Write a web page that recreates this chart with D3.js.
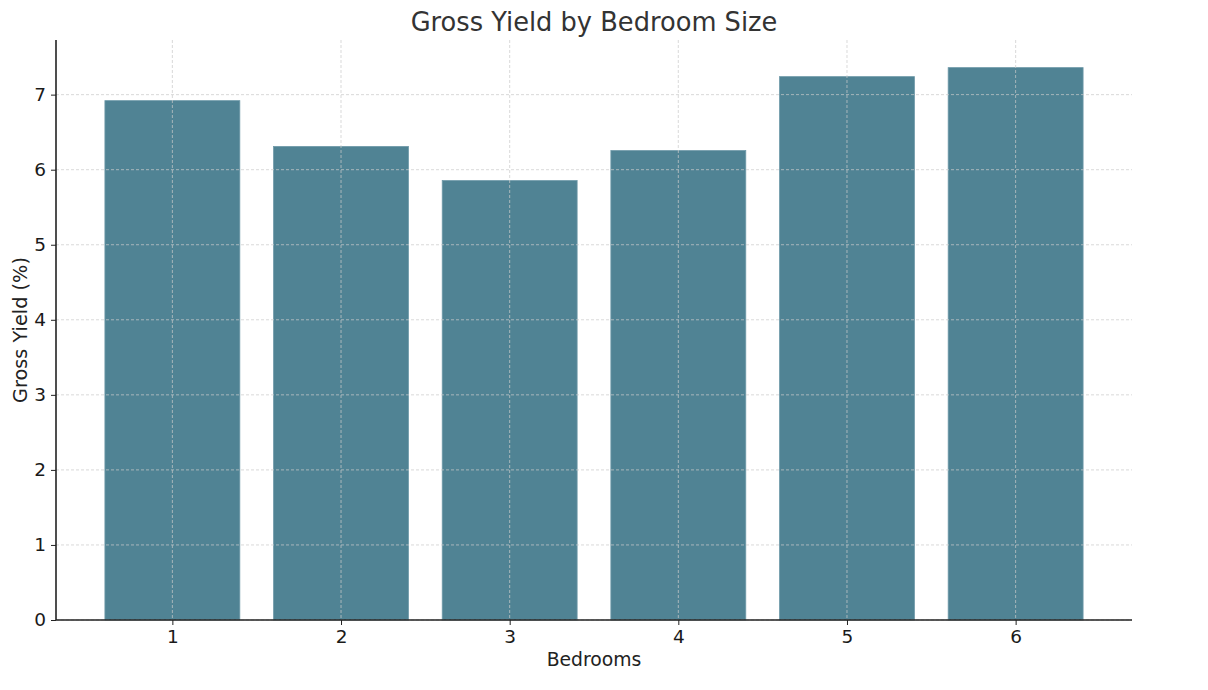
<!DOCTYPE html>
<html><head><meta charset="utf-8">
<script src="https://cdn.jsdelivr.net/npm/d3@7"></script>
<style>body{margin:0;background:#fff}svg{display:block}text{font-family:"DejaVu Sans",sans-serif}</style>
</head><body><svg id="c" width="1208" height="690"></svg>
<script>
const categories = ["1","2","3","4","5","6"];
const values = [6.92, 6.31, 5.855, 6.255, 7.24, 7.36];
const yTicks = [0,1,2,3,4,5,6,7];

const svg = d3.select("#c");
const L=56, R=1132, T=40, B=620;
const x = d3.scaleLinear().domain([0.31, 6.69]).range([L, R]);
const y = d3.scaleLinear().domain([0, 7.728]).range([B, T]);
const bw = x(1.8) - x(1);

svg.append("g").selectAll("rect").data(values).join("rect")
  .attr("x",(d,i)=>x(i+1)-bw/2).attr("width",bw)
  .attr("y",d=>y(d)).attr("height",d=>y(0)-y(d))
  .attr("fill","#508394").attr("stroke","#6f9aa9").attr("stroke-width",0.8);

// grid
const g = svg.append("g").attr("stroke","#cccccc").attr("stroke-width",0.8).attr("stroke-dasharray","3,2").attr("opacity",0.9);
g.selectAll("line.h").data(yTicks).join("line").attr("x1",L).attr("x2",R).attr("y1",d=>y(d)).attr("y2",d=>y(d));
g.selectAll("line.v").data(categories).join("line").attr("x1",(d,i)=>x(i+1)).attr("x2",(d,i)=>x(i+1)).attr("y1",T).attr("y2",B);

const xa = svg.append("g").attr("transform",`translate(0,${B})`)
  .call(d3.axisBottom(x).tickValues([1,2,3,4,5,6]).tickFormat((d,i)=>categories[i]).tickSizeOuter(0).tickSize(5).tickPadding(5));
const ya = svg.append("g").attr("transform",`translate(${L},0)`)
  .call(d3.axisLeft(y).tickValues(yTicks).tickSizeOuter(0).tickSize(5).tickPadding(5));
[xa,ya].forEach(a=>{
  a.selectAll("text").style("font-size","18.5px").style("font-family","DejaVu Sans").attr("fill","#1a1a1a");
  a.selectAll("line").attr("stroke","#222"); a.select(".domain").attr("stroke","#222").attr("stroke-width",1.6);});
xa.select(".domain").attr("d",`M${L},0H${R}`);
ya.select(".domain").attr("d",`M0,${B}V${T}`);

svg.append("text").attr("x",594).attr("y",31).attr("text-anchor","middle").attr("font-size",25.7).attr("fill","#333").text("Gross Yield by Bedroom Size");
svg.append("text").attr("x",594).attr("y",666).attr("text-anchor","middle").attr("font-size",18.8).attr("fill","#222").text("Bedrooms");
svg.append("text").attr("transform","translate(27,330) rotate(-90)").attr("text-anchor","middle").attr("font-size",19.3).attr("fill","#222").text("Gross Yield (%)");
</script></body></html>
